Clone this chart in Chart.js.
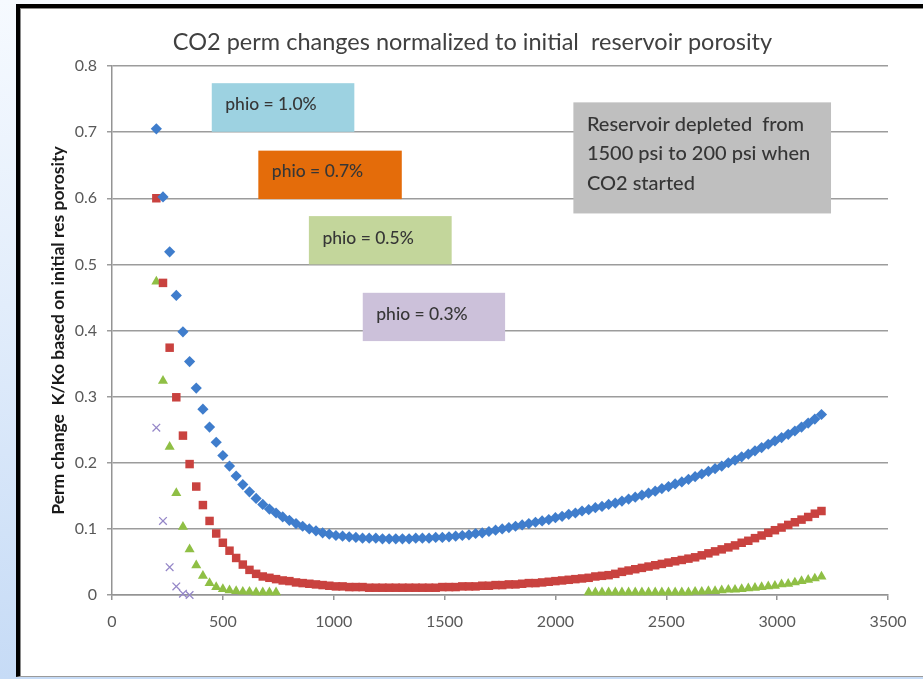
<!DOCTYPE html>
<html>
<head>
<meta charset="utf-8">
<script src="https://cdn.jsdelivr.net/npm/chart.js@4"></script>
<style>
html,body{margin:0;padding:0;}
body{width:923px;height:679px;position:relative;overflow:hidden;
  background:linear-gradient(to bottom,#f6faff 0%,#e2edfb 45%,#c6dbf6 100%);}
#frame{position:absolute;left:16px;top:4px;width:903px;height:668px;
  border-top:4px solid #000;border-left:4px solid #000;border-bottom:1px solid #9a9a9a;
  background:#fff;box-shadow:inset 1px 1px 0 #8a8a8a;}
#chart{position:absolute;left:0;top:0;}
</style>
</head>
<body>
<div id="frame"><canvas id="chart" width="903" height="668"></canvas></div>
<script>
// ---------- data ----------
const chartTitle = 'CO2 perm changes normalized to initial  reservoir porosity';
const yAxisTitle = 'Perm change  K/Ko based on initial res porosity';
const seriesNames = ['phio = 1.0%', 'phio = 0.7%', 'phio = 0.5%', 'phio = 0.3%'];

const xTickValues = [0, 500, 1000, 1500, 2000, 2500, 3000, 3500];
const xTickLabels = ['0', '500', '1000', '1500', '2000', '2500', '3000', '3500'];
const yTickValues = [0, 0.1, 0.2, 0.3, 0.4, 0.5, 0.6, 0.7, 0.8];
const yTickLabels = ['0', '0.1', '0.2', '0.3', '0.4', '0.5', '0.6', '0.7', '0.8'];

// pressure (psi) for the 1.0% and 0.7% series
const pressureX = [
  200,230,260,290,320,350,380,410,440,470,
  500,530,560,590,620,650,680,710,740,770,
  800,830,860,890,920,950,980,1010,1040,1070,
  1100,1130,1160,1190,1220,1250,1280,1310,1340,1370,
  1400,1430,1460,1490,1520,1550,1580,1610,1640,1670,
  1700,1730,1760,1790,1820,1850,1880,1910,1940,1970,
  2000,2030,2060,2090,2120,2150,2180,2210,2240,2270,
  2300,2330,2360,2390,2420,2450,2480,2510,2540,2570,
  2600,2630,2660,2690,2720,2750,2780,2810,2840,2870,
  2900,2930,2960,2990,3020,3050,3080,3110,3140,3170,
  3200
];
const phio10Y = [
  .705,.602,.519,.453,.398,.353,.313,.281,.254,.231,
  .211,.195,.180,.167,.156,.146,.137,.130,.124,.118,
  .113,.108,.104,.100,.097,.094,.092,.090,.089,.088,
  .087,.086,.086,.086,.085,.085,.085,.085,.085,.086,
  .086,.086,.087,.087,.088,.089,.090,.091,.093,.094,
  .096,.098,.100,.102,.104,.106,.108,.110,.112,.114,
  .117,.119,.122,.124,.127,.129,.132,.134,.137,.139,
  .142,.145,.148,.151,.154,.157,.161,.164,.168,.171,
  .175,.179,.183,.187,.191,.195,.200,.204,.209,.213,
  .218,.223,.228,.233,.238,.243,.248,.254,.260,.266,
  .273
];
const phio07Y = [
  .600,.472,.374,.299,.241,.198,.164,.136,.112,.093,
  .079,.067,.056,.046,.038,.032,.028,.026,.024,.022,
  .021,.019,.018,.017,.016,.015,.014,.013,.013,.012,
  .012,.012,.011,.011,.011,.011,.011,.011,.011,.011,
  .011,.011,.011,.012,.012,.012,.013,.013,.013,.014,
  .014,.015,.015,.016,.016,.017,.018,.018,.019,.020,
  .021,.022,.023,.024,.025,.026,.028,.029,.030,.032,
  .035,.037,.039,.041,.043,.045,.047,.049,.051,.053,
  .055,.057,.060,.063,.066,.069,.072,.075,.079,.082,
  .086,.090,.094,.098,.102,.106,.110,.114,.118,.123,
  .127
];
const phio05X = [
  200,230,260,290,320,350,380,410,440,470,500,530,560,590,620,650,680,710,740,
  2150,2180,2210,2240,2270,2300,2330,2360,2390,2420,2450,2480,2510,2540,2570,2600,
  2630,2660,2690,2720,2750,2780,2810,2840,2870,2900,2930,2960,2990,3020,3050,3080,3110,3140,3170,3200
];
const phio05Y = [
  .474,.324,.224,.154,.103,.069,.045,.029,.018,.012,.009,.007,.006,.005,.005,.004,.004,.004,.004,
  .004,.004,.004,.004,.004,.004,.004,.004,.004,.004,.004,.004,.004,.004,.004,.004,
  .005,.005,.006,.006,.007,.008,.008,.009,.010,.011,.012,.013,.014,.016,.017,.019,.021,.023,.025,.028
];
const phio03X = [200, 230, 260, 290, 320, 350];
const phio03Y = [.253, .112, .042, .013, .002, .000];

const noteTexts = [
  ['phio = 1.0%'],
  ['phio = 0.7%'],
  ['phio = 0.5%'],
  ['phio = 0.3%'],
  ['Reservoir depleted  from', '1500 psi to 200 psi when', 'CO2 started']
];
// ---------- end of data ----------

const noteBoxes = [
  {x0: 450,  x1: 1093, y0: 0.774, y1: 0.7005, fill: '#9dd2e1', dy: 21.5, size: 17.5},
  {x0: 660,  x1: 1307, y0: 0.672, y1: 0.5987, fill: '#e46c0a', dy: 20.5, size: 17.5},
  {x0: 888,  x1: 1532, y0: 0.573, y1: 0.500,  fill: '#c3d69b', dy: 22,   size: 17.5},
  {x0: 1131, x1: 1773, y0: 0.457, y1: 0.384,  fill: '#ccc1da', dy: 22,   size: 17.5},
  {x0: 2081, x1: 3243, y0: 0.745, y1: 0.577,  fill: '#bfbfbf', dy: 21.7, size: 20, gap: 29.5}
];

const notePlugin = {
  id: 'notes',
  beforeDatasetsDraw(chart) {
    const ctx = chart.ctx, xs = chart.scales.x, ys = chart.scales.y;
    ctx.save();
    noteBoxes.forEach((b, i) => {
      const l = xs.getPixelForValue(b.x0), r = xs.getPixelForValue(b.x1);
      const t = ys.getPixelForValue(b.y0), btm = ys.getPixelForValue(b.y1);
      ctx.fillStyle = b.fill;
      ctx.fillRect(l, t, r - l, btm - t);
      ctx.fillStyle = '#363636';
      ctx.font = '500 ' + b.size + 'px Lato';
      ctx.textBaseline = 'middle';
      ctx.textAlign = 'left';
      noteTexts[i].forEach((line, k) => {
        ctx.fillText(line, l + 13.5, t + b.dy + k * (b.gap || 0));
      });
    });
    ctx.restore();
  }
};

// chart title, centred on the whole picture (not on the plot)
const titlePlugin = {
  id: 'pageTitle',
  afterDraw(chart) {
    const ctx = chart.ctx;
    ctx.save();
    ctx.fillStyle = '#404040';
    ctx.font = '23.5px Lato';
    ctx.textAlign = 'center';
    ctx.textBaseline = 'middle';
    ctx.fillText(chartTitle, chart.width / 2 + 1, 34);
    ctx.restore();
  }
};

const toPoints = (xs, ys) => xs.map((x, i) => ({x: x, y: ys[i]}));

Chart.defaults.font.family = 'Lato';

new Chart(document.getElementById('chart'), {
  type: 'scatter',
  data: {
    datasets: [
      {label: seriesNames[0], data: toPoints(pressureX, phio10Y), pointStyle: 'rectRot', pointRadius: 5.6,
       pointBackgroundColor: '#3f7dcc', pointBorderColor: '#3f7dcc', pointBorderWidth: 0, clip: false},
      {label: seriesNames[1], data: toPoints(pressureX, phio07Y), pointStyle: 'rect', pointRadius: 6,
       pointBackgroundColor: '#c9423f', pointBorderColor: '#c9423f', pointBorderWidth: 0, clip: false},
      {label: seriesNames[2], data: toPoints(phio05X, phio05Y), pointStyle: 'triangle', pointRadius: 5.8,
       pointBackgroundColor: '#8fbf45', pointBorderColor: '#8fbf45', pointBorderWidth: 0, clip: false},
      {label: seriesNames[3], data: toPoints(phio03X, phio03Y), pointStyle: 'crossRot', pointRadius: 5.4,
       pointBackgroundColor: '#9587c8', pointBorderColor: '#9587c8', pointBorderWidth: 1.3, clip: false}
    ]
  },
  options: {
    responsive: false,
    animation: false,
    devicePixelRatio: 1,
    layout: {padding: {left: 0, right: 35, top: 58, bottom: 0}},
    plugins: {
      legend: {display: false},
      tooltip: {enabled: false},
      title: {display: false}
    },
    scales: {
      x: {
        type: 'linear', min: 0, max: 3500,
        afterFit(s) { s.height = 81; },
        afterBuildTicks(s) { s.ticks = xTickValues.map(v => ({value: v})); },
        grid: {drawOnChartArea: false, drawTicks: true, tickLength: 5, color: '#949494', lineWidth: 1.5},
        border: {display: true, color: '#949494', width: 1.5},
        ticks: {color: '#595959', font: {size: 16}, padding: 12, maxRotation: 0,
                callback: (v, i) => xTickLabels[i]}
      },
      y: {
        type: 'linear', min: 0, max: 0.8,
        afterFit(s) { s.width = 92; },
        afterBuildTicks(s) { s.ticks = yTickValues.map(v => ({value: v})); },
        grid: {color: '#9c9c9c', lineWidth: 1.5, tickLength: 5},
        border: {display: true, color: '#949494', width: 1.5},
        ticks: {color: '#595959', font: {size: 16}, padding: 10, callback: (v, i) => yTickLabels[i]},
        title: {display: true, text: yAxisTitle, color: '#1a1a1a',
                font: {family: 'Lato', size: 17.5, weight: 'bold'}, padding: {top: 28, bottom: 0}}
      }
    }
  },
  plugins: [notePlugin, titlePlugin]
});
</script>
</body>
</html>
